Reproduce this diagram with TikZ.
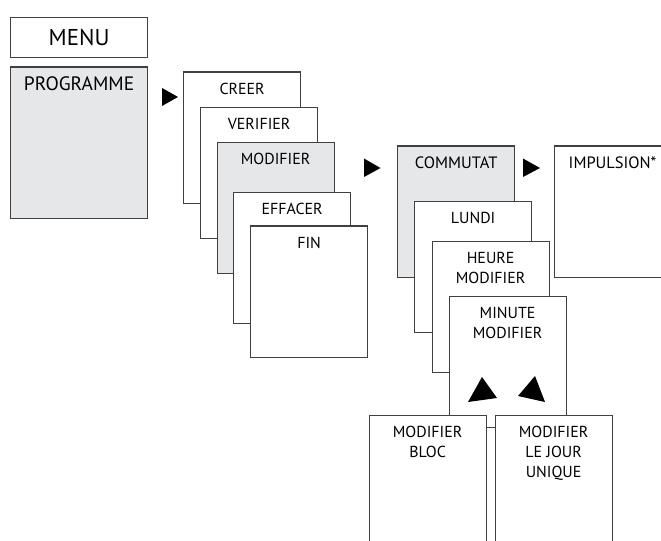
\documentclass[tikz,border=0pt]{standalone}
\usepackage{fontspec}
\setmainfont{PT Sans}
\usetikzlibrary{positioning}

\definecolor{boxgray}{HTML}{E6E7E8}
\definecolor{edge}{HTML}{404040}

\begin{document}
\begin{tikzpicture}[
    x=1bp, y=-1bp,
    box/.style={rectangle, draw=edge, line width=1.2bp, fill=white, minimum width=117bp, minimum height=131bp, anchor=north west, inner sep=0pt},
    graybox/.style={box, fill=boxgray},
    lbl/.style={font=\fontsize{16}{20}\selectfont, align=center, inner sep=0pt, anchor=north},
    midlbl/.style={lbl, font=\fontsize{16.5}{20}\selectfont},
    biglbl/.style={lbl, font=\fontsize{19.5}{22}\selectfont},
    tri/.style={fill=black}
]
\useasboundingbox (0,0) rectangle (661,541);
\clip (0,0) rectangle (661,541);

% Menu and programme
\node[box, minimum width=137bp, minimum height=40bp] (menu) at (10,17) {};
\node[font=\fontsize{23}{26}\selectfont, inner sep=0pt] (menutxt) at (menu.center) {MENU};
\node[graybox, minimum width=137bp, minimum height=151.5bp] (prog) at (10,66.5) {};
\node[biglbl, below=10bp of prog.north] (progtxt) {PROGRAMME};

% First stack of screens
\node[box] (creer) at (183,71.5) {};
\node[lbl, below=11bp of creer.north] (creertxt) {CREER};
\node[box] (verif) at (200,107) {};
\node[lbl, below=11bp of verif.north] (veriftxt) {VERIFIER};
\node[graybox] (modif) at (216.5,142) {};
\node[lbl, below=11bp of modif.north] (modiftxt) {MODIFIER};
\node[box] (effac) at (233,192) {};
\node[lbl, below=11bp of effac.north] (effactxt) {EFFACER};
\node[box] (fin) at (250,225.5) {};
\node[lbl, below=11bp of fin.north] (fintxt) {FIN};

% Second stack of screens
\node[graybox] (commut) at (397,145.5) {};
\node[midlbl, below=11bp of commut.north] (commuttxt) {COMMUTAT};
\node[box] (impul) at (553.5,145.5) {};
\node[midlbl, below=11bp of impul.north] (impultxt) {IMPULSION*};
\node[box] (lundi) at (414,201) {};
\node[lbl, below=11bp of lundi.north] (lunditxt) {LUNDI};
\node[box] (heure) at (431.5,241) {};
\node[lbl, below=11bp of heure.north] (heuretxt) {HEURE\\MODIFIER};
\node[box] (minute) at (448.5,296) {};
\node[lbl, below=11bp of minute.north] (minutetxt) {MINUTE\\MODIFIER};

% Choice screens
\node[box] (bloc) at (368.5,415) {};
\node[lbl, below=11bp of bloc.north] (bloctxt) {MODIFIER\\BLOC};
\node[box] (jour) at (494.5,415) {};
\node[lbl, below=11bp of jour.north] (jourtxt) {MODIFIER\\LE JOUR\\UNIQUE};

% Arrow marks
\fill[tri] (162,88) -- (178,97) -- (162,106) -- cycle;
\fill[tri] (364,158.5) -- (380.5,168) -- (364,177) -- cycle;
\fill[tri] (523,158.5) -- (540,168) -- (523,177) -- cycle;
\fill[tri] (468,402) -- (482,377) -- (497,398) -- cycle;
\fill[tri] (518,396) -- (535,376) -- (545,402) -- cycle;

\end{tikzpicture}
\end{document}
